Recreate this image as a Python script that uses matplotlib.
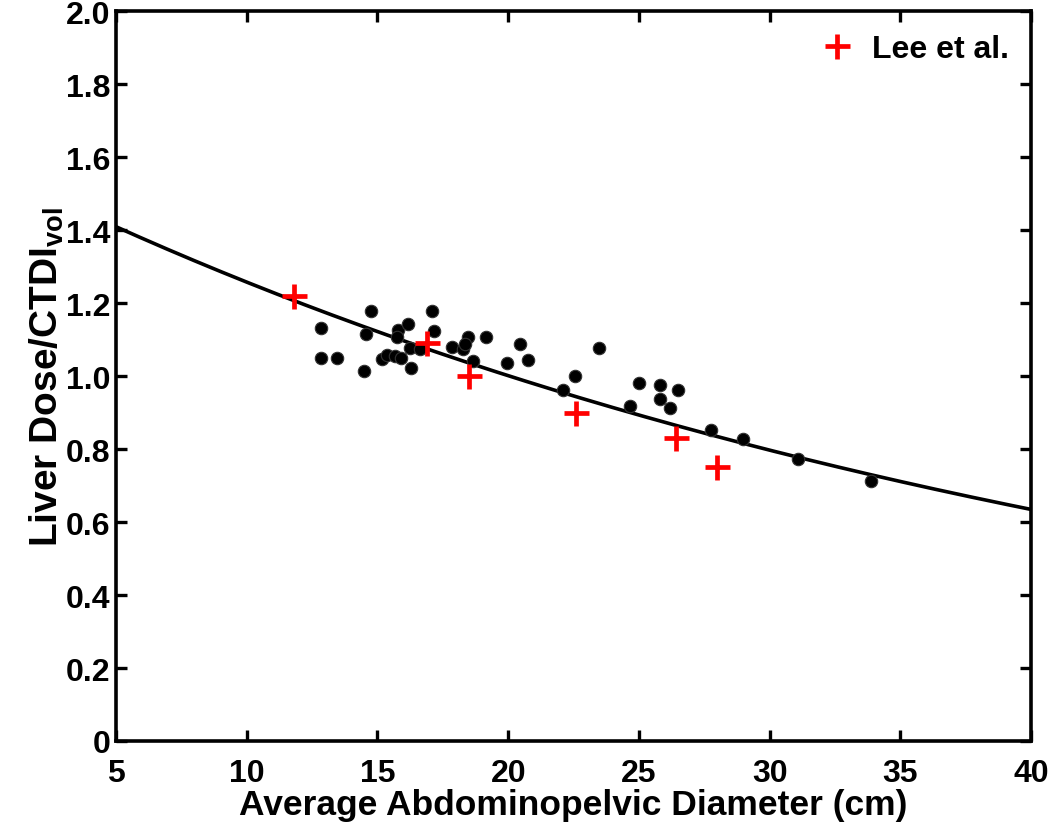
import matplotlib
matplotlib.use("Agg")
import matplotlib.pyplot as plt
import numpy as np

plt.rcParams["font.family"] = ["Liberation Sans", "DejaVu Sans"]
plt.rcParams["font.weight"] = "bold"
plt.rcParams["mathtext.fontset"] = "custom"
plt.rcParams["mathtext.rm"] = "Liberation Sans:bold"
plt.rcParams["mathtext.bf"] = "Liberation Sans:bold"

# black dots: measured liver dose / CTDIvol vs diameter
diam = [14.76, 12.85, 14.57, 15.77, 16.16, 15.74, 17.08, 17.17, 16.25, 16.63,
        17.85, 18.26, 18.46, 18.36, 19.16, 18.65, 20.46, 19.95, 20.74, 12.85,
        13.47, 14.47, 15.17, 15.36, 15.68, 15.90, 16.28, 23.48, 22.57, 22.08,
        24.99, 24.67, 25.79, 26.48, 25.79, 26.20, 27.77, 28.98, 31.07, 33.88]
ratio = [1.178, 1.131, 1.116, 1.128, 1.143, 1.107, 1.178, 1.123, 1.077, 1.075,
         1.079, 1.075, 1.107, 1.088, 1.107, 1.043, 1.087, 1.035, 1.045, 1.049,
         1.049, 1.013, 1.047, 1.058, 1.056, 1.050, 1.022, 1.077, 1.000, 0.962,
         0.980, 0.918, 0.976, 0.963, 0.938, 0.912, 0.853, 0.828, 0.773, 0.712]

# Lee et al. (red crosses)
lee_diam = [11.8, 16.9, 18.5, 22.6, 26.4, 28.0]
lee_ratio = [1.22, 1.09, 1.00, 0.90, 0.83, 0.75]

# exponential fit: a * exp(-b * d)
fit_a = 1.58
fit_b = 0.0228

fig = plt.figure(figsize=(10.5, 8.28), dpi=100)
ax = fig.add_axes([0.1105, 0.1039, 0.8715, 0.8811])

d = np.linspace(5, 40, 200)
ax.plot(d, fit_a * np.exp(-fit_b * d), color="black", lw=2.6, zorder=2)
ax.scatter(diam, ratio, s=80, color="black", edgecolors="#333333",
           linewidths=0.8, zorder=3)
ax.plot(lee_diam, lee_ratio, "+", color="red", ms=18, mew=3.4,
        linestyle="none", label="Lee et al.", zorder=4)

ax.set_xlim(5, 40)
ax.set_ylim(0, 2.0)
ax.set_xticks(np.arange(5, 41, 5))
ax.set_yticks(np.arange(0, 2.01, 0.2))
ax.set_yticklabels(["0"] + [f"{v:.1f}" for v in np.arange(0.2, 2.01, 0.2)])

ax.tick_params(direction="in", length=8, width=2.4, labelsize=23,
               top=True, right=True)
ax.tick_params(axis="y", pad=4)
ax.tick_params(axis="x", pad=12)
for lab in ax.get_xticklabels() + ax.get_yticklabels():
    lab.set_fontweight("bold")
for s in ax.spines.values():
    s.set_linewidth(2.6)

ax.set_xlabel("Average Abdominopelvic Diameter (cm)", fontsize=25.5,
              fontweight="bold", labelpad=0)
ax.set_ylabel(r"Liver Dose/CTDI$_{\mathrm{vol}}$", fontsize=28,
              fontweight="bold", labelpad=0)

leg = ax.legend(loc="upper right", frameon=False, fontsize=23,
                handletextpad=0.5, borderaxespad=0.3, handlelength=1.2)
for t in leg.get_texts():
    t.set_fontweight("bold")

fig.savefig("out.png", dpi=100)
